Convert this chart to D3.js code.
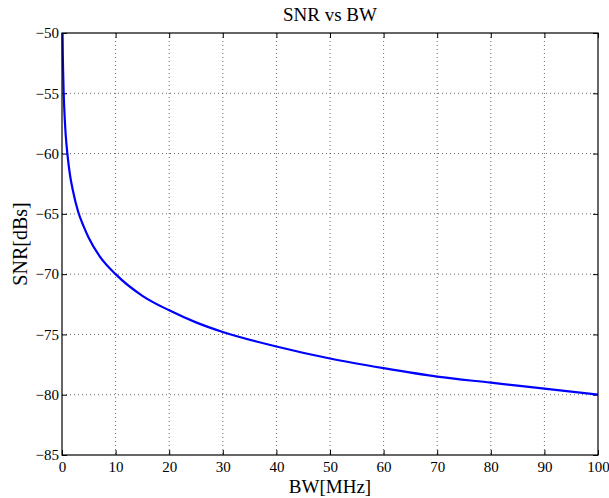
<!DOCTYPE html>
<html>
<head>
<meta charset="utf-8">
<script src="https://cdn.jsdelivr.net/npm/d3@7"></script>
<style>
  body { margin: 0; background: #fff; }
  text { font-family: "Liberation Serif", "Times New Roman", serif; fill: #000; }
</style>
</head>
<body>
<script>
// values
const bw  = [0.1, 0.15, 0.2, 0.3, 0.5, 0.7, 1, 1.5, 2, 3, 4, 5, 7, 10, 15, 20, 25, 30, 40, 50, 60, 70, 80, 90, 100];
const snr = [-50, -51.8, -53, -54.8, -57, -58.5, -60, -61.8, -63, -64.8, -66, -67, -68.5, -70, -71.8, -73, -74, -74.8, -76, -77, -77.8, -78.5, -79, -79.5, -80];
const xTicks = [0, 10, 20, 30, 40, 50, 60, 70, 80, 90, 100];
const yTicks = [-85, -80, -75, -70, -65, -60, -55, -50];

const width = 609;
const height = 498;
const margin = { top: 33, right: 11, bottom: 43, left: 62 };
const w = width - margin.left - margin.right;
const h = height - margin.top - margin.bottom;

const x = d3.scaleLinear().domain([0, 100]).range([0, w]);
const y = d3.scaleLinear().domain([-85, -50]).range([h, 0]);

const svg = d3.select('body').append('svg')
    .attr('width', width)
    .attr('height', height);

const g = svg.append('g')
    .attr('transform', `translate(${margin.left}, ${margin.top})`);

// dotted grid
g.append('g')
    .selectAll('line')
    .data(xTicks.slice(1, -1))
    .enter()
        .append('line')
        .attr('x1', (d) => x(d)).attr('x2', (d) => x(d))
        .attr('y1', 0).attr('y2', h)
        .attr('stroke', '#444')
        .attr('stroke-width', 0.8)
        .attr('stroke-dasharray', '1,3');

g.append('g')
    .selectAll('line')
    .data(yTicks.slice(1, -1))
    .enter()
        .append('line')
        .attr('y1', (d) => y(d)).attr('y2', (d) => y(d))
        .attr('x1', 0).attr('x2', w)
        .attr('stroke', '#444')
        .attr('stroke-width', 0.8)
        .attr('stroke-dasharray', '1,3');

// axes with inward ticks
const styleAxis = (sel) => {
    sel.select('.domain').remove();
    sel.selectAll('.tick line').attr('stroke', '#000');
    sel.selectAll('.tick text').style('font-size', '15px').style('font-family', '"Liberation Serif", serif');
};

g.append('g')
    .attr('transform', `translate(0, ${h})`)
    .call(d3.axisBottom(x).tickValues(xTicks).tickSizeInner(-5).tickSizeOuter(0).tickPadding(6))
    .call(styleAxis);

g.append('g')
    .call(d3.axisLeft(y).tickValues(yTicks).tickFormat((d) => '\u2212' + Math.abs(d)).tickSizeInner(-5).tickSizeOuter(0).tickPadding(3))
    .call(styleAxis);

g.append('g')
    .call(d3.axisTop(x).tickValues(xTicks).tickSizeInner(-5).tickSizeOuter(0).tickFormat(''))
    .call(styleAxis);

g.append('g')
    .attr('transform', `translate(${w}, 0)`)
    .call(d3.axisRight(y).tickValues(yTicks).tickSizeInner(-5).tickSizeOuter(0).tickFormat(''))
    .call(styleAxis);

// curve
const line = d3.line()
    .x((d, i) => x(bw[i]))
    .y((d) => y(d))
    .curve(d3.curveMonotoneX);

g.append('path')
    .datum(snr)
    .attr('d', line)
    .attr('fill', 'none')
    .attr('stroke', '#0000ff')
    .attr('stroke-width', 2.2);

// box
g.append('rect')
    .attr('width', w)
    .attr('height', h)
    .attr('fill', 'none')
    .attr('stroke', '#000')
    .attr('stroke-width', 1.2);

// labels
svg.append('text')
    .attr('x', margin.left + w / 2)
    .attr('y', 21)
    .attr('text-anchor', 'middle')
    .style('font-size', '19px')
    .text('SNR vs BW');

svg.append('text')
    .attr('x', margin.left + w / 2)
    .attr('y', 493)
    .attr('text-anchor', 'middle')
    .style('font-size', '19px')
    .text('BW[MHz]');

svg.append('text')
    .attr('transform', `translate(27, ${margin.top + h / 2}) rotate(-90)`)
    .attr('text-anchor', 'middle')
    .style('font-size', '20px')
    .text('SNR[dBs]');
</script>
</body>
</html>
